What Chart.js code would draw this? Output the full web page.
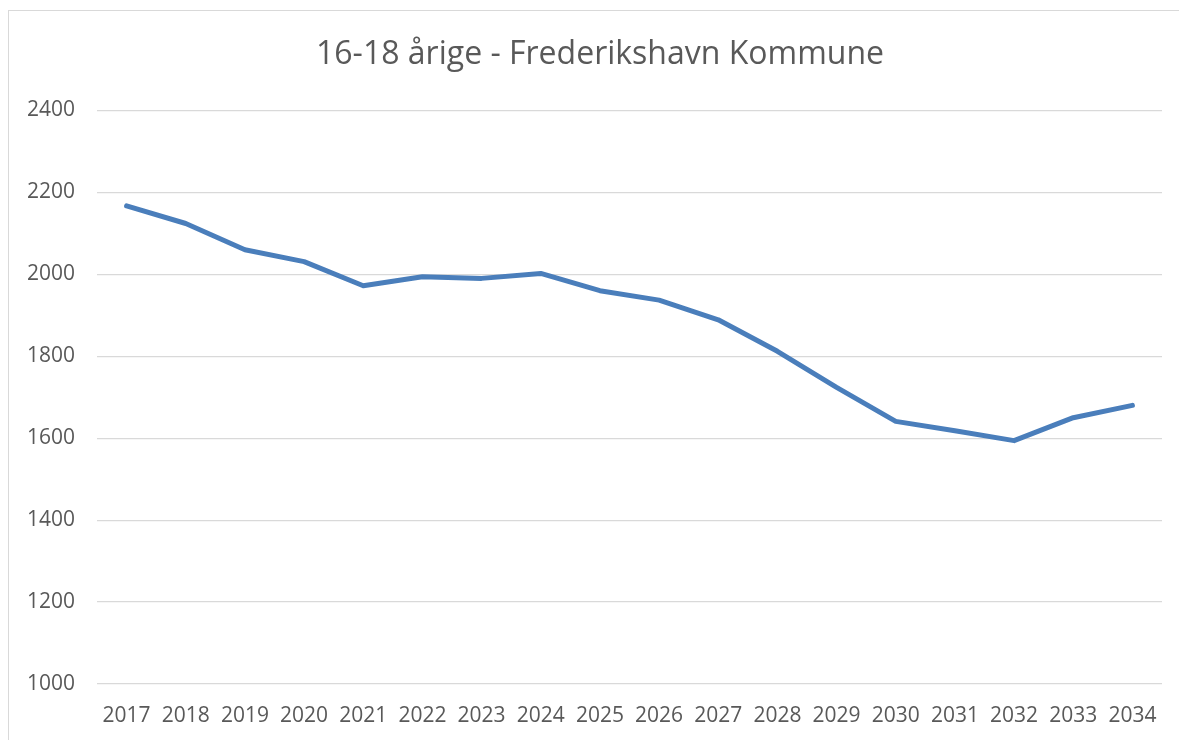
<!DOCTYPE html>
<html>
<head>
<meta charset="utf-8">
<script src="https://cdn.jsdelivr.net/npm/chart.js@4.4.3/dist/chart.umd.min.js"></script>
<style>
  html, body { margin: 0; padding: 0; background: #fff; overflow: hidden; }
  #frame {
    position: absolute; left: 8px; top: 10px;
    width: 1182px; height: 740px;
    border-left: 1px solid #d9d9d9; border-top: 1px solid #d9d9d9;
  }
  canvas { display: block; }
</style>
</head>
<body>
<div id="frame"><canvas id="chart" width="1182" height="729"></canvas></div>
<script>
const years = ['2017', '2018', '2019', '2020', '2021', '2022', '2023', '2024', '2025',
               '2026', '2027', '2028', '2029', '2030', '2031', '2032', '2033', '2034'];
const students = [2167, 2124, 2060, 2031, 1972, 1994, 1990, 2002, 1960,
                  1937, 1889, 1812, 1724, 1641, 1618, 1594, 1650, 1680];
const yMin = 1000;
const yMax = 2400;
const yStep = 200;
const chartTitle = '16-18 årige - Frederikshavn Kommune';

const textColor = '#595959';
const gridColor = '#d9d9d9';

new Chart(document.getElementById('chart'), {
  type: 'line',
  data: {
    labels: years,
    datasets: [{
      label: '16-18 årige',
      data: students,
      yAxisID: 'y',
      borderColor: '#4a7ebb',
      borderWidth: 5,
      borderCapStyle: 'round',
      borderJoinStyle: 'round',
      pointRadius: 0,
      tension: 0,
      fill: false
    }]
  },
  options: {
    responsive: false,
    animation: false,
    layout: { padding: 0 },
    plugins: {
      legend: { display: false },
      tooltip: { enabled: false },
      title: {
        display: true,
        text: chartTitle,
        color: textColor,
        font: { family: '"Open Sans"', size: 32, weight: 'normal' },
        padding: { top: 25, bottom: 36 }
      }
    },
    scales: {
      x: {
        offset: true,
        grid: { display: false, drawTicks: false },
        border: { display: false },
        ticks: {
          color: textColor,
          font: { family: '"Open Sans"', size: 21 },
          padding: 19,
          maxRotation: 0,
          autoSkip: false
        },
        afterFit: (scale) => { scale.height = 56; }
      },
      y: {
        min: yMin,
        max: yMax,
        grid: { color: gridColor, lineWidth: 1.2, drawTicks: false },
        border: { display: false },
        ticks: {
          stepSize: yStep,
          color: textColor,
          font: { family: '"Open Sans"', size: 21 },
          padding: 22,
          callback: (value) => String(value)
        },
        afterFit: (scale) => { scale.width = 88; }
      },
      // empty right-hand spacer so the plot ends short of the frame
      // while the title stays centred on the whole frame
      spacer: {
        type: 'linear',
        position: 'right',
        min: 0,
        max: 1,
        grid: { display: false, drawTicks: false },
        border: { display: false },
        ticks: { display: false },
        afterFit: (scale) => { scale.width = 29; }
      }
    }
  }
});
</script>
</body>
</html>
